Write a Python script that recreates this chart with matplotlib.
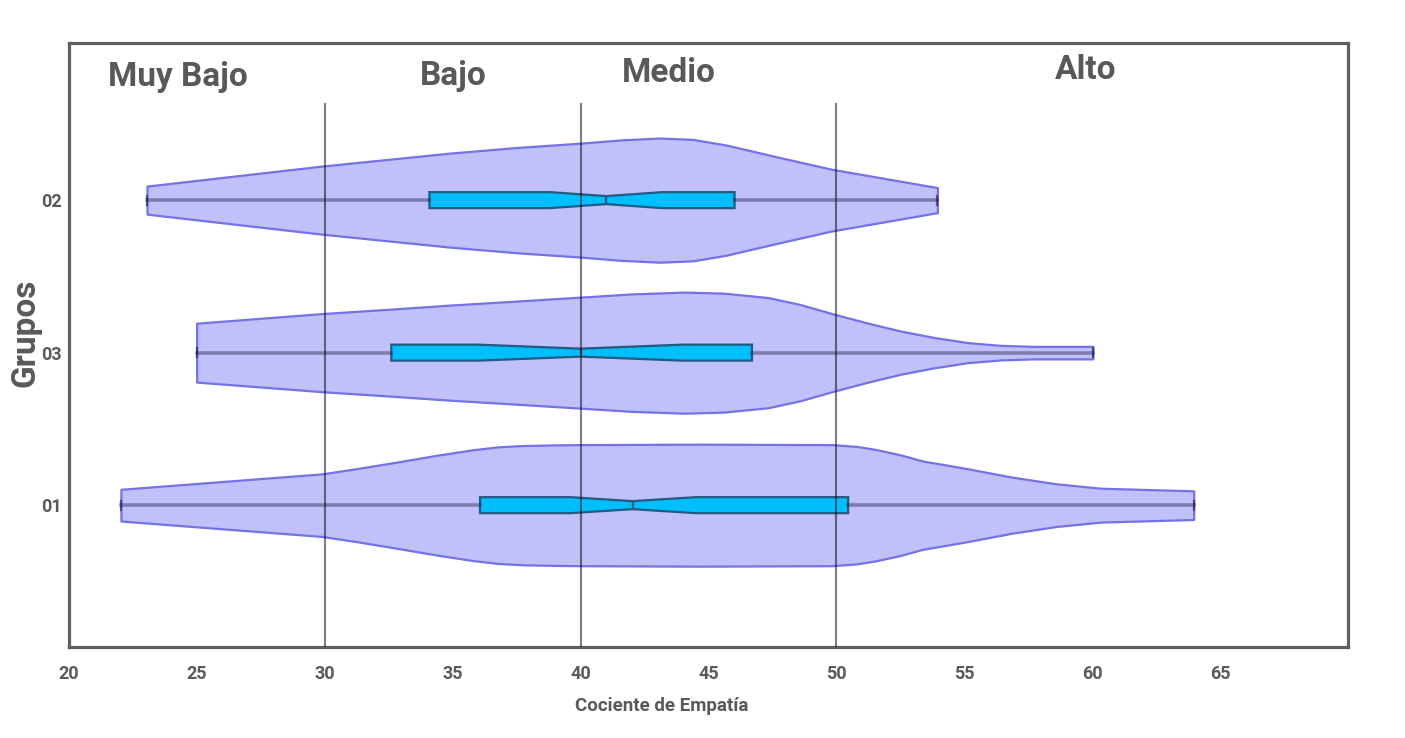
import matplotlib
matplotlib.use("Agg")
import matplotlib.pyplot as plt

plt.rcParams['font.family'] = ['Roboto', 'DejaVu Sans']

# grupos (de abajo hacia arriba)
groups = ['01', '03', '02']

# contorno de los violines: valor de empatía y media anchura
vio_x_01 = [22.03, 29.88, 31.31, 32.87, 34.41, 35.78, 36.76, 37.73, 39.00, 40.02,
            44.65, 49.83, 50.80, 51.55, 52.50, 53.36, 55.10, 56.86, 58.60, 60.34,
            63.97]
vio_w_01 = [0.104, 0.205, 0.241, 0.284, 0.328, 0.363, 0.382, 0.391, 0.395, 0.397,
            0.400, 0.397, 0.385, 0.365, 0.330, 0.290, 0.240, 0.184, 0.140, 0.111,
            0.094]

vio_x_03 = [24.99, 29.89, 32.56, 35.02, 37.50, 40.00, 42.00, 44.06, 45.60, 47.34,
            48.60, 49.83, 51.20, 52.50, 53.80, 55.12, 56.40, 57.73, 60.03]
vio_w_03 = [0.193, 0.256, 0.285, 0.313, 0.338, 0.364, 0.385, 0.397, 0.390, 0.361,
            0.315, 0.256, 0.195, 0.142, 0.100, 0.066, 0.048, 0.041, 0.041]

vio_x_02 = [23.05, 29.88, 34.88, 37.50, 40.04, 41.60, 43.09, 44.40, 45.70, 47.77,
            49.80, 53.95]
vio_w_02 = [0.092, 0.223, 0.308, 0.345, 0.374, 0.395, 0.407, 0.398, 0.361, 0.280,
            0.203, 0.082]

# resumen de cada caja
mins = [22.03, 24.99, 23.05]
q1 = [36.07, 32.60, 34.09]
medians = [42.03, 40.00, 41.00]
q3 = [50.46, 46.70, 46.02]
maxs = [63.97, 60.03, 53.95]
notch_lo = [39.6, 36.0, 38.8]
notch_hi = [44.5, 44.0, 43.2]

# cortes de nivel y nombres
cuts = [30, 40, 50]
levels = ['Muy Bajo', 'Bajo', 'Medio', 'Alto']

gray = '#595959'

fig = plt.figure(figsize=(14.05, 7.38), dpi=100)
ax = fig.add_axes([0.0491, 0.1233, 0.9103, 0.8184])

violins = [(vio_x_01, vio_w_01), (vio_x_03, vio_w_03), (vio_x_02, vio_w_02)]
for pos, (vx, vw) in enumerate(violins):
    lo = [pos - w for w in vw]
    hi = [pos + w for w in vw]
    ax.fill_between(vx, lo, hi, facecolor='#c0c0fa', edgecolor='#7373e8',
                    linewidth=1.6, zorder=1)

stats = []
for i, g in enumerate(groups):
    stats.append({'label': g, 'whislo': mins[i], 'q1': q1[i], 'med': medians[i],
                  'q3': q3[i], 'whishi': maxs[i], 'cilo': notch_lo[i],
                  'cihi': notch_hi[i], 'fliers': []})

ax.bxp(stats, positions=range(len(groups)), orientation='horizontal',
       widths=0.105, capwidths=0.06, shownotches=True, patch_artist=True,
       showfliers=False, manage_ticks=False,
       boxprops=dict(facecolor='#00bfff', edgecolor='#245a82', linewidth=1.6),
       medianprops=dict(color='#245a82', linewidth=1.6),
       whiskerprops=dict(color='#1a1a40', alpha=0.4, linewidth=2.6),
       capprops=dict(color='#1a1a40', alpha=0.6, linewidth=1.6),
       zorder=2)

for c in cuts:
    ax.plot([c, c], [-0.93, 2.63], color='black', alpha=0.5, linewidth=1.5,
            zorder=3)

label_x = [24.26, 35.02, 43.44, 59.73]
label_y = [2.748, 2.754, 2.776, 2.793]
for name, lx, ly in zip(levels, label_x, label_y):
    ax.text(lx, ly, name, ha='center', va='baseline', fontsize=24,
            fontweight='bold', color=gray)

ax.set_xlim(20, 70)
ax.set_ylim(-0.93, 3.03)
ax.set_xticks(range(20, 70, 5))
ax.set_yticks(range(len(groups)))
ax.set_yticklabels(groups)
ax.tick_params(axis='both', length=0, labelsize=13, labelcolor=gray)
ax.tick_params(axis='x', pad=13)
ax.tick_params(axis='y', pad=5)
for lab in ax.get_xticklabels() + ax.get_yticklabels():
    lab.set_fontweight('bold')

for sp in ax.spines.values():
    sp.set_color('#5f5f5f')
    sp.set_linewidth(2.3)

ax.set_xlabel('Cociente de Empatía', fontsize=13.5, fontweight='bold', color=gray)
ax.xaxis.set_label_coords(0.4636, -0.083)
ax.set_ylabel('Grupos', fontsize=24, fontweight='bold', color=gray)
ax.yaxis.set_label_coords(-0.0211, 0.5207)

fig.savefig('out.png', dpi=100)
